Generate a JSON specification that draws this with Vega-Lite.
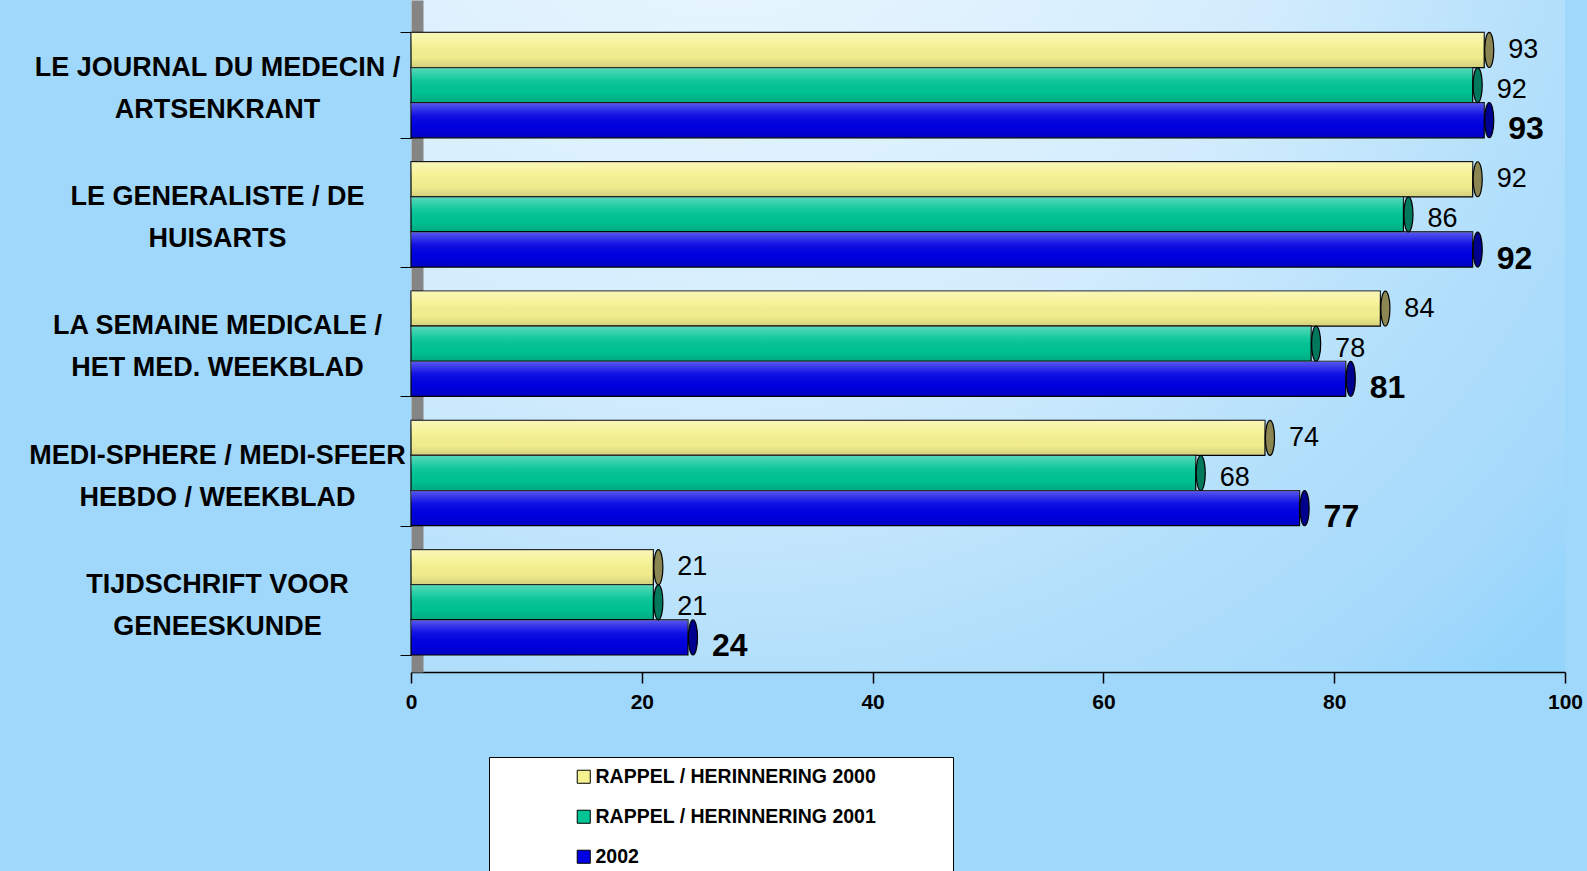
{
  "$schema": "https://vega.github.io/schema/vega-lite/v6.json",
  "autosize": "none",
  "width": 1154,
  "height": 672,
  "padding": {"left": 411, "top": 0, "right": 22, "bottom": 199},
  "background": "#a0d8fb",
  "config": {
    "view": {
      "stroke": null,
      "fill": {
        "gradient": "radial", "x1": 0.27, "y1": 0.05, "r1": 0, "x2": 0.27, "y2": 0.05, "r2": 1.0,
        "stops": [
          {"offset": 0, "color": "#eef8ff"},
          {"offset": 0.5, "color": "#d2ecfd"},
          {"offset": 0.75, "color": "#b2dffb"},
          {"offset": 0.9, "color": "#a6dafb"},
          {"offset": 1, "color": "#95d5fc"}
        ]
      }
    },
    "font": "Liberation Sans"
  },
  "data": {
    "values": [
      {"media": "LE JOURNAL DU MEDECIN /\nARTSENKRANT", "series": "RAPPEL / HERINNERING 2000", "value": 93},
      {"media": "LE JOURNAL DU MEDECIN /\nARTSENKRANT", "series": "RAPPEL / HERINNERING 2001", "value": 92},
      {"media": "LE JOURNAL DU MEDECIN /\nARTSENKRANT", "series": "2002", "value": 93},
      {"media": "LE GENERALISTE / DE\nHUISARTS", "series": "RAPPEL / HERINNERING 2000", "value": 92},
      {"media": "LE GENERALISTE / DE\nHUISARTS", "series": "RAPPEL / HERINNERING 2001", "value": 86},
      {"media": "LE GENERALISTE / DE\nHUISARTS", "series": "2002", "value": 92},
      {"media": "LA SEMAINE MEDICALE /\nHET MED. WEEKBLAD", "series": "RAPPEL / HERINNERING 2000", "value": 84},
      {"media": "LA SEMAINE MEDICALE /\nHET MED. WEEKBLAD", "series": "RAPPEL / HERINNERING 2001", "value": 78},
      {"media": "LA SEMAINE MEDICALE /\nHET MED. WEEKBLAD", "series": "2002", "value": 81},
      {"media": "MEDI-SPHERE / MEDI-SFEER\nHEBDO / WEEKBLAD", "series": "RAPPEL / HERINNERING 2000", "value": 74},
      {"media": "MEDI-SPHERE / MEDI-SFEER\nHEBDO / WEEKBLAD", "series": "RAPPEL / HERINNERING 2001", "value": 68},
      {"media": "MEDI-SPHERE / MEDI-SFEER\nHEBDO / WEEKBLAD", "series": "2002", "value": 77},
      {"media": "TIJDSCHRIFT VOOR\nGENEESKUNDE", "series": "RAPPEL / HERINNERING 2000", "value": 21},
      {"media": "TIJDSCHRIFT VOOR\nGENEESKUNDE", "series": "RAPPEL / HERINNERING 2001", "value": 21},
      {"media": "TIJDSCHRIFT VOOR\nGENEESKUNDE", "series": "2002", "value": 24}
    ]
  },
  "encoding": {
    "y": {
      "field": "media", "type": "nominal", "sort": null,
      "scale": {"paddingInner": 0.185, "paddingOuter": 0.191, "align": 0.656},
      "axis": {
        "title": null,
        "offset": -6,
        "domainColor": "#858585",
        "domainWidth": 12,
        "tickBand": "extent",
        "tickColor": "black",
        "tickWidth": 1,
        "tickSize": 17,
        "labelPadding": 183,
        "labelAlign": "center",
        "labelBaseline": "middle",
        "labelOffset": -18,
        "labelFont": "Liberation Sans",
        "labelFontSize": 27,
        "labelFontWeight": "bold",
        "labelColor": "black",
        "labelLineHeight": 42,
        "labelLimit": 500,
        "labelExpr": "split(datum.label, '\\n')"
      }
    },
    "yOffset": {
      "field": "series", "type": "nominal",
      "sort": ["RAPPEL / HERINNERING 2000", "RAPPEL / HERINNERING 2001", "2002"],
      "scale": {"paddingInner": 0}
    },
    "x": {
      "field": "value", "type": "quantitative",
      "scale": {"domain": [0, 100]},
      "axis": {
        "title": null,
        "values": [0, 20, 40, 60, 80, 100],
        "grid": false,
        "labelFlush": false,
        "domainColor": "black",
        "domainWidth": 1.5,
        "tickColor": "black",
        "tickWidth": 1.5,
        "tickSize": 11,
        "labelPadding": 8,
        "labelFont": "Liberation Sans",
        "labelFontSize": 21,
        "labelFontWeight": "bold",
        "labelColor": "black"
      }
    }
  },
  "layer": [
    {
      "mark": {"type": "bar", "stroke": "black", "strokeWidth": 1.2, "opacity": 1},
      "encoding": {
        "color": {
          "field": "series", "type": "nominal",
          "scale": {
            "domain": ["RAPPEL / HERINNERING 2000", "RAPPEL / HERINNERING 2001", "2002"],
            "range": ["#f6f291", "#00c595", "#0000e4"]
          },
          "legend": {
            "title": "\u00a0",
            "titleOrient": "right",
            "titlePadding": 67,
            "orient": "none",
            "legendX": 78,
            "legendY": 757,
            "fillColor": "white",
            "strokeColor": "black",
            "padding": 10,
            "symbolType": "square",
            "symbolSize": 170,
            "symbolStrokeColor": "black",
            "symbolStrokeWidth": 1,
            "symbolOpacity": 1,
            "symbolOffset": 75,
            "labelOffset": 2,
            "labelLimit": 500,
            "labelFont": "Liberation Sans",
            "labelFontSize": 19.5,
            "labelFontWeight": "bold",
            "labelColor": "black",
            "rowPadding": 19
          }
        }
      }
    },
    {
      "mark": {
        "type": "bar",
        "strokeWidth": 0,
        "fill": {
          "gradient": "linear", "x1": 0, "y1": 0, "x2": 0, "y2": 1,
          "stops": [
            {"offset": 0, "color": "rgba(255,255,255,0.35)"},
            {"offset": 0.35, "color": "rgba(255,255,255,0.08)"},
            {"offset": 0.7, "color": "rgba(0,0,0,0.02)"},
            {"offset": 1, "color": "rgba(0,0,0,0.14)"}
          ]
        }
      },
      "encoding": {}
    },
    {
      "mark": {
        "type": "point",
        "shape": "M0,-1A0.26,1,0,0,1,0,1A0.26,1,0,0,1,0,-1Z",
        "filled": true,
        "size": 1225,
        "xOffset": 5,
        "stroke": "black",
        "strokeWidth": 1.2,
        "opacity": 1
      },
      "encoding": {
        "fill": {
          "field": "series", "type": "nominal",
          "scale": {
            "domain": ["RAPPEL / HERINNERING 2000", "RAPPEL / HERINNERING 2001", "2002"],
            "range": ["#8c8652", "#00785c", "#00008e"]
          },
          "legend": null
        }
      }
    },
    {
      "transform": [{"filter": "datum.series == 'RAPPEL / HERINNERING 2000'"}],
      "mark": {"type": "text", "align": "left", "baseline": "middle", "dx": 24, "dy": 0, "font": "Liberation Sans", "fontSize": 27, "color": "black"},
      "encoding": {"text": {"field": "value", "type": "quantitative"}}
    },
    {
      "transform": [{"filter": "datum.series == 'RAPPEL / HERINNERING 2001'"}],
      "mark": {"type": "text", "align": "left", "baseline": "middle", "dx": 24, "dy": 5, "font": "Liberation Sans", "fontSize": 27, "color": "black"},
      "encoding": {"text": {"field": "value", "type": "quantitative"}}
    },
    {
      "transform": [{"filter": "datum.series == '2002'"}],
      "mark": {"type": "text", "align": "left", "baseline": "middle", "dx": 24, "dy": 9, "font": "Liberation Sans", "fontSize": 32, "fontWeight": "bold", "color": "black"},
      "encoding": {"text": {"field": "value", "type": "quantitative"}}
    }
  ]
}
